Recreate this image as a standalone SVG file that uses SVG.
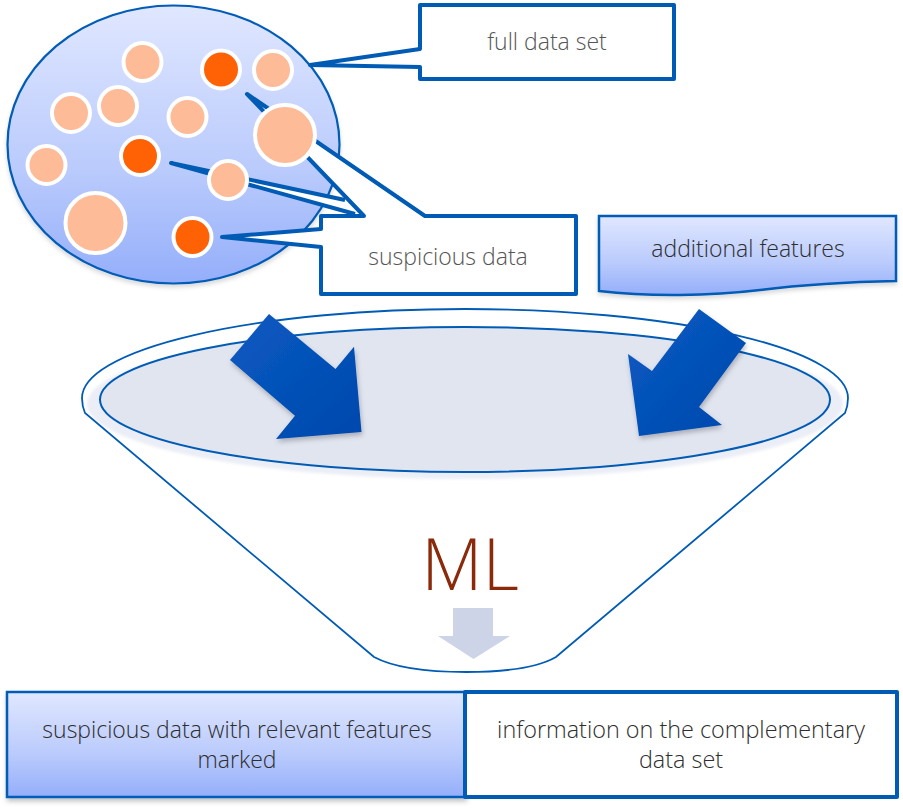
<svg xmlns="http://www.w3.org/2000/svg" width="903" height="808" viewBox="0 0 903 808">
<style>
text{font-family:"Open Sans","Noto Sans","Liberation Sans",sans-serif;font-weight:300;text-anchor:middle}
.t{font-size:23px;fill:#2e2e2e}
.g{font-size:23px;fill:#555}
.p{fill:#fdbb98;stroke:#fff;stroke-width:4}
.o{fill:#ff6105;stroke:#fff;stroke-width:4}
.c{fill:#fff;stroke:#005bb5;stroke-width:4;stroke-linejoin:round}
.f{fill:url(#grad);stroke:#005bb5;stroke-width:2.5}
.a{fill:url(#ag);filter:url(#sh)}
</style>
<defs>
<linearGradient id="grad" x1="0" y1="0" x2="0" y2="1"><stop offset="0" stop-color="#e0e7ff"/><stop offset="0.6" stop-color="#b9cafc"/><stop offset="1" stop-color="#94aefa"/></linearGradient>
<linearGradient id="ag" x1="0" y1="0" x2="1" y2="1"><stop offset="0" stop-color="#0a5ac2"/><stop offset="1" stop-color="#0048ad"/></linearGradient>
<filter id="sh" x="-20%" y="-20%" width="140%" height="140%"><feDropShadow dx="1" dy="3" stdDeviation="2.5" flood-color="#000" flood-opacity="0.25"/></filter>
<filter id="lsh" x="-10%" y="-10%" width="120%" height="120%"><feDropShadow dx="0" dy="3" stdDeviation="2" flood-color="#000" flood-opacity="0.15"/></filter>
<filter id="blur" x="-5%" y="-5%" width="110%" height="110%"><feGaussianBlur stdDeviation="1.5"/></filter>
</defs>
<g id="funnel">
<ellipse cx="465" cy="404" rx="378" ry="75" fill="#ebeef6" filter="url(#blur)"/>
<path d="M85,413 Q82,406 82,398 A383,89 0 0 1 848,398 Q848,406 845,413 L556,657 Q530,672 466,672 Q402,672 374,657 Z" fill="none" stroke="#005bb5" stroke-width="1.800"/>
<ellipse cx="465" cy="399.500" rx="365" ry="72.500" fill="#e1e5f0" stroke="#005bb5" stroke-width="2"/>
<text x="470" y="590" font-size="71" style="fill:#8b2a0a">ML</text>
</g>
<g id="full-data">
<ellipse cx="173.500" cy="144.500" rx="166" ry="139" fill="url(#grad)" stroke="#005bb5" stroke-width="2.200" filter="url(#lsh)"/>
</g>
<g id="callout-full">
<path class="c" d="M420,5 H674 V79 H420 V67 L310,65 L420,49 Z"/>
<text class="g" x="547" y="50">full data set</text>
</g>
<g id="callout-suspicious">
<path class="c" d="M345,200 L171,163 L355,214"/>
<path class="c" d="M321,216 H364 L247,94 L425,216 H576 V294 H321 V247 L222,237 L321,229 Z"/>
<text class="g" x="448" y="265">suspicious data</text>
</g>
<g id="points">
<circle class="p" cx="142.500" cy="62" r="19"/>
<circle class="o" cx="221" cy="69.500" r="19"/>
<circle class="p" cx="273" cy="70" r="19"/>
<circle class="p" cx="71" cy="113" r="19"/>
<circle class="p" cx="118" cy="106" r="19"/>
<circle class="p" cx="187.500" cy="117" r="19"/>
<circle class="p" cx="285" cy="135" r="30"/>
<circle class="p" cx="46.500" cy="165" r="19"/>
<circle class="o" cx="140" cy="156" r="19"/>
<circle class="p" cx="228" cy="180" r="19"/>
<circle class="p" cx="95.500" cy="223" r="30"/>
<circle class="o" cx="192.500" cy="237" r="19"/>
</g>
<g id="additional-features">
<path class="f" d="M599,216 H896 V281 C840,282 800,285 760,290 C710,296 650,297 599,291 Z" filter="url(#lsh)"/>
<text class="t" x="748" y="257">additional features</text>
</g>
<g id="connectors">
<polygon class="a" points="269,314 335.500,369 354,346.700 361.500,432 276,439 295,415.700 230,360"/>
<polygon class="a" points="699,309 746,343 699,407 722,425 639,436 628,354 652,371"/>
<polygon points="453,608 493,608 493,636 510,636 473.500,659 438,636 453,636" fill="#cdd4e8"/>
</g>
<g id="result-marked">
<rect class="f" x="7" y="692" width="458" height="105" filter="url(#sh)"/>
<text class="t" x="237" y="738">suspicious data with relevant features</text>
<text class="t" x="237" y="768">marked</text>
</g>
<g id="result-complement">
<rect class="c" x="465" y="692" width="432" height="105"/>
<text class="t" x="681" y="738" style="font-size:23.400px">information on the complementary</text>
<text class="t" x="681" y="768" style="font-size:23.400px">data set</text>
</g>
</svg>
